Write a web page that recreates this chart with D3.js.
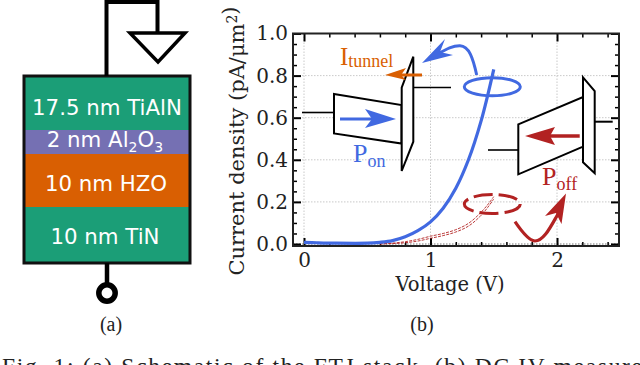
<!DOCTYPE html>
<html>
<head>
<meta charset="utf-8">
<script src="https://cdn.jsdelivr.net/npm/d3@7"></script>
<style>
html, body { margin: 0; padding: 0; background: #fff; overflow: hidden; }
svg { display: block; }
text { font-family: "DejaVu Serif", serif; }
.ser { font-family: "Liberation Serif", serif; }
.layer { font-family: "DejaVu Sans", sans-serif; fill: #fff; font-size: 21.3px; text-anchor: middle; }
.wire { fill: none; stroke: #000; stroke-linejoin: miter; }
</style>
</head>
<body>
<svg id="fig" width="640" height="365"></svg>
<script>
// values
var layerNames = ["17.5 nm TiAlN", "2 nm Al", "10 nm HZO", "10 nm TiN"];
var layerThick = [54, 24, 53, 56];
var layerColors = ["#1b9e77", "#7570b3", "#d95f02", "#1b9e77"];

var volts = [0, 0.1, 0.25, 0.5, 0.6, 0.7, 0.8, 0.9, 1.0, 1.1, 1.2, 1.3, 1.4, 1.5];
var onCurrent = [0.008, 0.006, 0.004, 0.004, 0.008, 0.016, 0.034, 0.063, 0.105, 0.17, 0.265, 0.4, 0.585, 0.83];

var offVolts = [0.6, 0.7, 0.8, 0.9, 1.0, 1.1, 1.2, 1.3, 1.39, 1.45, 1.5];
var offUp = [0.001, 0.004, 0.011, 0.022, 0.037, 0.05, 0.068, 0.098, 0.145, 0.185, 0.225];
var offDown = [0.0, 0.002, 0.006, 0.014, 0.027, 0.04, 0.057, 0.085, 0.13, 0.172, 0.214];

var xMajor = [0, 1, 2];
var xMinor = [0.2, 0.4, 0.6, 0.8, 1.2, 1.4, 1.6, 1.8, 2.2, 2.4];
var yMajor = [0, 0.2, 0.4, 0.6, 0.8, 1.0];
var yMinor = [0.05, 0.1, 0.15, 0.25, 0.3, 0.35, 0.45, 0.5, 0.55, 0.65, 0.7, 0.75, 0.85, 0.9, 0.95];

var blue = "#4169e1", red = "#b22222", orange = "#d95f02";

var svg = d3.select("#fig");

// ---- left panel, the stack
var stackTop = 76, stackLeft = 24, stackW = 166;
var yy = stackTop;
layerThick.forEach(function(h, i) {
    svg.append("rect").attr("x", stackLeft).attr("y", yy)
        .attr("width", stackW).attr("height", h).attr("fill", layerColors[i]);
    yy += h;
});
svg.append("rect").attr("x", stackLeft).attr("y", stackTop)
    .attr("width", stackW).attr("height", yy - stackTop)
    .attr("fill", "none").attr("stroke", "#111").attr("stroke-width", 3);

svg.append("text").attr("class", "layer").attr("x", 107).attr("y", 115).text(layerNames[0]);
var al = svg.append("text").attr("class", "layer").attr("x", 105).attr("y", 147).text(layerNames[1]);
al.append("tspan").attr("dy", 5).style("font-size", "14px").text("2");
al.append("tspan").attr("dy", -5).text("O");
al.append("tspan").attr("dy", 5).style("font-size", "14px").text("3");
svg.append("text").attr("class", "layer").attr("x", 106).attr("y", 191).text(layerNames[2]);
svg.append("text").attr("class", "layer").attr("x", 105).attr("y", 244).text(layerNames[3]);

svg.append("path").attr("class", "wire").attr("stroke-width", 4)
    .attr("d", "M106.5,76V2H157.5V33");
svg.append("path").attr("class", "wire").attr("stroke-width", 3.5)
    .attr("d", "M130,33H185L158,62Z");
svg.append("path").attr("class", "wire").attr("stroke-width", 4.5).attr("d", "M107,263V285");
svg.append("circle").attr("cx", 107).attr("cy", 293).attr("r", 8.2)
    .attr("fill", "#fff").attr("stroke", "#000").attr("stroke-width", 5.5);

// ---- right panel, the plot
var x = d3.scaleLinear().domain([-0.087, 2.49]).range([293, 619]);
var y = d3.scaleLinear().domain([0, 1.0]).range([244, 33.5]);
var bottom = 246, top_ = 33.5, left = x.range()[0], right = x.range()[1];

var grid = svg.append("g").attr("fill", "none").attr("stroke", "#bbb")
    .attr("stroke-width", 0.8).attr("stroke-dasharray", "1.5,1.5");
xMajor.forEach(function(d) {
    grid.append("line").attr("x1", x(d)).attr("x2", x(d)).attr("y1", top_).attr("y2", bottom);
});
yMajor.forEach(function(d) {
    grid.append("line").attr("x1", left).attr("x2", right).attr("y1", y(d)).attr("y2", y(d))
        .attr("stroke-width", d == 0 ? 2 : 0.8);
});

function styleAxis(g, big) {
    g.select(".domain").remove();
    g.selectAll(".tick line").attr("stroke", "#000").attr("stroke-width", big ? 2 : 1.5);
    g.selectAll("text").style("font-size", "20px").attr("fill", "#222");
}
function addAxis(maker, scale, ticks, size, tx, ty, fmt, pad) {
    var a = maker(scale).tickValues(ticks).tickSize(size).tickPadding(pad || 5).tickFormat(fmt || "");
    var g = svg.append("g").attr("transform", "translate(" + tx + "," + ty + ")").call(a);
    styleAxis(g, Math.abs(size) > 6);
}

addAxis(d3.axisBottom, x, xMinor, -4, 0, bottom);
addAxis(d3.axisTop, x, xMinor, -4, 0, top_);
addAxis(d3.axisBottom, x, xMajor, -8, 0, bottom, d3.format("d"), 7);
addAxis(d3.axisTop, x, xMajor, -8, 0, top_);
addAxis(d3.axisLeft, y, yMinor, -4, left, 0);
addAxis(d3.axisRight, y, yMinor, -4, right, 0);
addAxis(d3.axisLeft, y, yMajor, -8, left, 0, d3.format(".1f"));
addAxis(d3.axisRight, y, yMajor, -8, right, 0);

svg.append("rect").attr("x", left).attr("y", top_)
    .attr("width", right - left).attr("height", bottom - top_)
    .attr("fill", "none").attr("stroke", "#222").attr("stroke-width", 2);

var line = d3.line().curve(d3.curveCatmullRom)
    .x(function(d) { return x(d[0]); })
    .y(function(d) { return y(d[1]); });

[offUp, offDown].forEach(function(vals) {
    svg.append("path").datum(d3.zip(offVolts, vals)).attr("d", line)
        .attr("fill", "none").attr("stroke", red)
        .attr("stroke-width", 0.9).attr("stroke-dasharray", "3,1.2");
});
svg.append("path").datum(d3.zip(volts, onCurrent)).attr("d", line)
    .attr("fill", "none").attr("stroke", blue).attr("stroke-width", 3.2);

svg.append("text").attr("transform", "translate(244,141) rotate(-90)")
    .attr("text-anchor", "middle").style("font-size", "21px").attr("fill", "#222")
    .html('Current density (pA/μm<tspan dy="-7" style="font-size:14px">2</tspan>)');
svg.append("text").attr("x", 450).attr("y", 291).attr("text-anchor", "middle")
    .style("font-size", "19.5px").attr("fill", "#222").text("Voltage (V)");

// ---- annotations drawn over the plot
function stroke(d, col, w) {
    return svg.append("path").attr("d", d).attr("fill", "none")
        .attr("stroke", col).attr("stroke-width", w);
}
function fillp(d, col) {
    return svg.append("path").attr("d", d).attr("fill", col);
}

// left device
stroke("M302,112.5H334", "#000", 1.6);
svg.append("path").attr("d", "M334,94L401.5,105V143.5L334,133.5Z").attr("fill", "#fff")
    .attr("stroke", "#000").attr("stroke-width", 2);
svg.append("path").attr("d", "M401.7,87.7L413.3,56.7V141.7L401.7,171Z").attr("fill", "#fff")
    .attr("stroke", "#000").attr("stroke-width", 2);
stroke("M413.3,87.5H451", "#000", 1.6);
stroke("M340,119H375", blue, 3);
fillp("M396,119L365,109L372,119L365,128Z", blue);
stroke("M422,75H395", orange, 3);
fillp("M385,75L406,68L401,75L406,80Z", orange);

// right device
stroke("M488,150H518", "#000", 1.6);
svg.append("path").attr("d", "M518.3,124.3L583,97V146.7L518.3,174.3Z").attr("fill", "#fff")
    .attr("stroke", "#000").attr("stroke-width", 2);
svg.append("path").attr("d", "M583,77.3L594.7,91V173.3L583,162.3Z").attr("fill", "#fff")
    .attr("stroke", "#000").attr("stroke-width", 2);
stroke("M594.7,121.7H612.7", "#000", 2);
stroke("M579.7,136H545", red, 3.5);
fillp("M525,136L555,127L550,136L555,145Z", red);

// blue ring and arrow
svg.append("ellipse").attr("cx", 492.3).attr("cy", 86.7).attr("rx", 28).attr("ry", 9)
    .attr("fill", "none").attr("stroke", blue).attr("stroke-width", 3);
stroke("M476.7,75C473,58 469,46 460,45.7C452,45.5 445,50 436,55", blue, 3);
fillp("M422,63L445,39L440,52L453,55Z", blue);

// red ring and arrow
svg.append("ellipse").attr("cx", 492.3).attr("cy", 204).attr("rx", 28).attr("ry", 9.5)
    .attr("fill", "none").attr("stroke", red).attr("stroke-width", 3)
    .attr("stroke-dasharray", "19,6");
stroke("M515,221.7C522,232 529,241 535,241C544,241 551,226 558,214", red, 3.2);
fillp("M566,193.5L545,216L556,213L561.5,224Z", red);

// labels
function sublabel(tx, ty, big, small, col, drop, size) {
    var t = svg.append("text").attr("class", "ser").attr("x", tx).attr("y", ty)
        .attr("fill", col).style("font-size", size + "px").text(big);
    t.append("tspan").attr("dy", drop).style("font-size", "18px").text(small);
}
sublabel(340, 65, "I", "tunnel", orange, 2, 25);
sublabel(353, 162, "P", "on", blue, 5, 26);
sublabel(542, 185, "P", "off", red, 5, 26);

// ---- captions
svg.append("text").attr("class", "ser").attr("x", 111).attr("y", 331).attr("text-anchor", "middle")
    .style("font-size", "20px").attr("fill", "#222").text("(a)");
svg.append("text").attr("class", "ser").attr("x", 422).attr("y", 331).attr("text-anchor", "middle")
    .style("font-size", "20px").attr("fill", "#222").text("(b)");
svg.append("text").attr("class", "ser").attr("x", 2).attr("y", 374)
    .attr("textLength", 640).attr("lengthAdjust", "spacing")
    .style("font-size", "23.5px").attr("fill", "#222")
    .text("Fig. 1: (a) Schematic of the FTJ stack. (b) DC IV measure");
</script>
</body>
</html>
